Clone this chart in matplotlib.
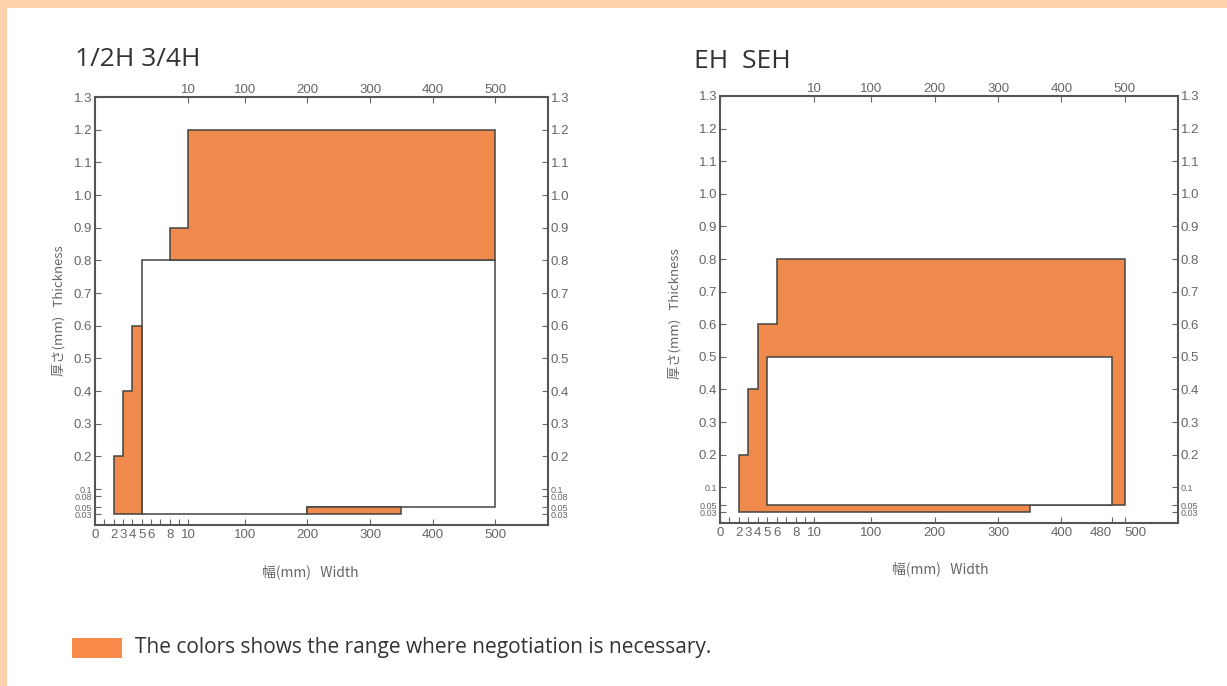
import numpy as np
import matplotlib.pyplot as plt
from matplotlib.patches import Rectangle

# 1/2H 3/4H  (width mm, thickness mm)
lh_low_w = [2, 2, 3, 3, 4, 4, 5, 5]
lh_low_t = [0.03, 0.2, 0.2, 0.4, 0.4, 0.6, 0.6, 0.03]
lh_top_w = [8, 8, 10, 10, 500, 500]
lh_top_t = [0.8, 0.9, 0.9, 1.2, 1.2, 0.8]
lh_strip_w = [200, 200, 350, 350]
lh_strip_t = [0.03, 0.05, 0.05, 0.03]
lh_std_w = [5, 5, 500, 500, 200, 200]
lh_std_t = [0.03, 0.8, 0.8, 0.05, 0.05, 0.03]

# EH SEH
eh_neg_w = [2, 2, 3, 3, 4, 4, 6, 6, 500, 500, 350, 350]
eh_neg_t = [0.03, 0.2, 0.2, 0.4, 0.4, 0.6, 0.6, 0.8, 0.8, 0.05, 0.05, 0.03]
eh_std_w = [5, 5, 480, 480]
eh_std_t = [0.05, 0.5, 0.5, 0.05]

top_ticks = [10, 100, 200, 300, 400, 500]
lh_bottom_ticks = [0, 2, 3, 4, 5, 6, 8, 10, 100, 200, 300, 400, 500]
eh_bottom_ticks = [0, 2, 3, 4, 5, 6, 8, 10, 100, 200, 300, 400, 480, 500]
minor_x = [1, 7, 9]
lh_yticks = [0.03, 0.05, 0.08, 0.1, 0.2, 0.3, 0.4, 0.5, 0.6, 0.7, 0.8, 0.9, 1.0, 1.1, 1.2, 1.3]
eh_yticks = [0.03, 0.05, 0.1, 0.2, 0.3, 0.4, 0.5, 0.6, 0.7, 0.8, 0.9, 1.0, 1.1, 1.2, 1.3]

ORANGE = '#f08a4c'
EDGE = '#444444'
GREY = '#666666'
JP = ['Noto Sans CJK JP', 'DejaVu Sans']


def xf(x):
    x = np.asarray(x, float)
    return np.where(x <= 10, x * 9.4, 94 + (x - 10) * 0.63)


def xi(u):
    u = np.asarray(u, float)
    return np.where(u <= 94, u / 9.4, 10 + (u - 94) / 0.63)


def yf(y):
    y = np.asarray(y, float)
    return np.where(y <= 0.1, y * 360, 36 + (y - 0.1) * 328)


def yi(v):
    v = np.asarray(v, float)
    return np.where(v <= 36, v / 360, 0.1 + (v - 36) / 328)


def ylab(v):
    if v >= 0.1:
        return '%.1f' % v
    return '%.2f' % v


fig = plt.figure(figsize=(12.27, 6.86), dpi=100, facecolor='#fcd3ab')
fig.patches.append(Rectangle((7 / 1227, 0), 1, 1 - 8 / 686, transform=fig.transFigure,
                             facecolor='white', edgecolor='none', zorder=-1))


def setup(ax, bottom_ticks, yticks):
    ax.set_xscale('function', functions=(xf, xi))
    ax.set_yscale('function', functions=(yf, yi))
    ax.set_xlim(0, 584)
    ax.set_ylim(0, 1.3)
    ax.set_xticks(bottom_ticks)
    ax.set_xticklabels([str(t) for t in bottom_ticks], fontsize=9.5, color=GREY,
                       family='Liberation Sans')
    ax.set_xticks(minor_x, minor=True)
    ax.set_yticks(yticks)
    ax.set_yticklabels([ylab(t) for t in yticks])
    ax.tick_params(axis='y', direction='in', right=True, labelright=True, length=4,
                   width=0.8, color=GREY, pad=2)
    for t, tick in zip(yticks, ax.yaxis.get_major_ticks()):
        for lab in (tick.label1, tick.label2):
            lab.set_fontsize(9.5 if t > 0.1 else 6.5)
            lab.set_color(GREY)
            lab.set_family('Liberation Sans')
    ax.tick_params(axis='x', which='both', direction='in', length=4, width=0.8,
                   color=GREY, pad=3)
    for s in ax.spines.values():
        s.set_color('#555555')
        s.set_linewidth(1.5)
    ax2 = ax.twiny()
    ax2.set_xscale('function', functions=(xf, xi))
    ax2.set_xlim(ax.get_xlim())
    ax2.set_xticks(top_ticks)
    ax2.set_xticklabels([str(t) for t in top_ticks], fontsize=9.5, color=GREY,
                        family='Liberation Sans')
    ax2.tick_params(axis='x', direction='in', length=4, width=0.8, color=GREY, pad=1)
    for s in ax2.spines.values():
        s.set_visible(False)
    ax.set_xlabel('幅(mm)   Width', fontsize=10, color=GREY, family=JP)
    ax.set_ylabel('厚さ(mm)   Thickness', fontsize=9.5, color=GREY, family=JP)


# left panel
ax1 = fig.add_axes([95 / 1227, 1 - 525 / 686, 453 / 1227, 428 / 686])
setup(ax1, lh_bottom_ticks, lh_yticks)
ax1.fill(lh_std_w, lh_std_t, facecolor='white', edgecolor=EDGE, linewidth=1.1, zorder=2)
ax1.fill(lh_low_w, lh_low_t, facecolor=ORANGE, edgecolor=EDGE, linewidth=1.1, zorder=3)
ax1.fill(lh_top_w, lh_top_t, facecolor=ORANGE, edgecolor=EDGE, linewidth=1.1, zorder=3)
ax1.fill(lh_strip_w, lh_strip_t, facecolor=ORANGE, edgecolor=EDGE, linewidth=1.1, zorder=3)
ax1.xaxis.set_label_coords(0.475, -0.093)
ax1.yaxis.set_label_coords(-0.066, 0.5)

# right panel
ax3 = fig.add_axes([720 / 1227, 1 - 523 / 686, 458 / 1227, 427 / 686])
setup(ax3, eh_bottom_ticks, eh_yticks)
ax3.fill(eh_neg_w, eh_neg_t, facecolor=ORANGE, edgecolor=EDGE, linewidth=1.1, zorder=2)
ax3.fill(eh_std_w, eh_std_t, facecolor='white', edgecolor=EDGE, linewidth=1.1, zorder=3)
ax3.xaxis.set_label_coords(0.48, -0.091)
ax3.yaxis.set_label_coords(-0.085, 0.49)
for lab in ax3.get_xticklabels():
    if lab.get_text() == '480':
        lab.set_ha('right')
    elif lab.get_text() == '500':
        lab.set_ha('left')

# titles
fig.text(75 / 1227, 1 - 60 / 686, '1/2H 3/4H', fontsize=19, color='#333333',
         family='Open Sans', va='center')
fig.text(694 / 1227, 1 - 62 / 686, 'EH  SEH', fontsize=19, color='#333333',
         family='Open Sans', va='center')

# footer legend
fig.patches.append(Rectangle((72 / 1227, 1 - 658 / 686), 50 / 1227, 20 / 686,
                             transform=fig.transFigure, facecolor='#f98b4b',
                             edgecolor='none'))
fig.text(135 / 1227, 1 - 648 / 686, 'The colors shows the range where negotiation is necessary.',
         fontsize=15, color='#333333', family='Open Sans', va='center')

fig.savefig('out.png', dpi=100, facecolor=fig.get_facecolor())
